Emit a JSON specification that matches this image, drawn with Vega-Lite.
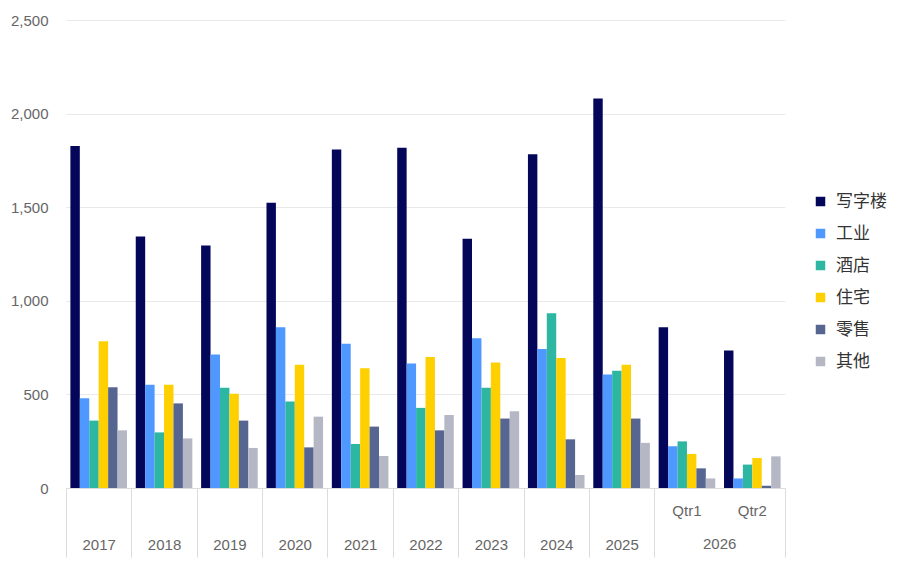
{
  "$schema": "https://vega.github.io/schema/vega-lite/v6.json",
  "width": 719,
  "height": 468,
  "autosize": {"type": "none"},
  "padding": {"left": 66, "top": 20, "right": 115, "bottom": 77},
  "background": "white",
  "config": {"view": {"stroke": null}, "font": "Liberation Sans"},
  "datasets": {
    "bars": [
      {"cat": "2017", "series": "写字楼", "value": 1827},
      {"cat": "2017", "series": "工业", "value": 479},
      {"cat": "2017", "series": "酒店", "value": 360},
      {"cat": "2017", "series": "住宅", "value": 784},
      {"cat": "2017", "series": "零售", "value": 538},
      {"cat": "2017", "series": "其他", "value": 308},
      {"cat": "2018", "series": "写字楼", "value": 1344},
      {"cat": "2018", "series": "工业", "value": 551},
      {"cat": "2018", "series": "酒店", "value": 297},
      {"cat": "2018", "series": "住宅", "value": 551},
      {"cat": "2018", "series": "零售", "value": 452},
      {"cat": "2018", "series": "其他", "value": 265},
      {"cat": "2019", "series": "写字楼", "value": 1296},
      {"cat": "2019", "series": "工业", "value": 713},
      {"cat": "2019", "series": "酒店", "value": 535},
      {"cat": "2019", "series": "住宅", "value": 503},
      {"cat": "2019", "series": "零售", "value": 360},
      {"cat": "2019", "series": "其他", "value": 214},
      {"cat": "2020", "series": "写字楼", "value": 1524},
      {"cat": "2020", "series": "工业", "value": 859},
      {"cat": "2020", "series": "酒店", "value": 462},
      {"cat": "2020", "series": "住宅", "value": 659},
      {"cat": "2020", "series": "零售", "value": 217},
      {"cat": "2020", "series": "其他", "value": 381},
      {"cat": "2021", "series": "写字楼", "value": 1808},
      {"cat": "2021", "series": "工业", "value": 770},
      {"cat": "2021", "series": "酒店", "value": 235},
      {"cat": "2021", "series": "住宅", "value": 640},
      {"cat": "2021", "series": "零售", "value": 328},
      {"cat": "2021", "series": "其他", "value": 171},
      {"cat": "2022", "series": "写字楼", "value": 1818},
      {"cat": "2022", "series": "工业", "value": 665},
      {"cat": "2022", "series": "酒店", "value": 428},
      {"cat": "2022", "series": "住宅", "value": 700},
      {"cat": "2022", "series": "零售", "value": 308},
      {"cat": "2022", "series": "其他", "value": 390},
      {"cat": "2023", "series": "写字楼", "value": 1332},
      {"cat": "2023", "series": "工业", "value": 800},
      {"cat": "2023", "series": "酒店", "value": 535},
      {"cat": "2023", "series": "住宅", "value": 670},
      {"cat": "2023", "series": "零售", "value": 371},
      {"cat": "2023", "series": "其他", "value": 410},
      {"cat": "2024", "series": "写字楼", "value": 1783},
      {"cat": "2024", "series": "工业", "value": 743},
      {"cat": "2024", "series": "酒店", "value": 934},
      {"cat": "2024", "series": "住宅", "value": 695},
      {"cat": "2024", "series": "零售", "value": 260},
      {"cat": "2024", "series": "其他", "value": 70},
      {"cat": "2025", "series": "写字楼", "value": 2080},
      {"cat": "2025", "series": "工业", "value": 606},
      {"cat": "2025", "series": "酒店", "value": 627},
      {"cat": "2025", "series": "住宅", "value": 659},
      {"cat": "2025", "series": "零售", "value": 371},
      {"cat": "2025", "series": "其他", "value": 241},
      {"cat": "Qtr1", "series": "写字楼", "value": 859},
      {"cat": "Qtr1", "series": "工业", "value": 223},
      {"cat": "Qtr1", "series": "酒店", "value": 249},
      {"cat": "Qtr1", "series": "住宅", "value": 182},
      {"cat": "Qtr1", "series": "零售", "value": 105},
      {"cat": "Qtr1", "series": "其他", "value": 51},
      {"cat": "Qtr2", "series": "写字楼", "value": 734},
      {"cat": "Qtr2", "series": "工业", "value": 51},
      {"cat": "Qtr2", "series": "酒店", "value": 125},
      {"cat": "Qtr2", "series": "住宅", "value": 160},
      {"cat": "Qtr2", "series": "零售", "value": 12},
      {"cat": "Qtr2", "series": "其他", "value": 169}
    ],
    "quarters": [
      {"cat": "Qtr1", "label": "Qtr1"},
      {"cat": "Qtr2", "label": "Qtr2"}
    ],
    "yearGroup": [
      {"cat": "Qtr2", "label": "2026"}
    ]
  },
  "layer": [
    {
      "data": {"name": "bars"},
      "mark": {"type": "bar"},
      "encoding": {
        "x": {
          "field": "cat",
          "type": "nominal",
          "sort": ["2017", "2018", "2019", "2020", "2021", "2022", "2023", "2024", "2025", "Qtr1", "Qtr2"],
          "scale": {"type": "band", "paddingInner": 0, "paddingOuter": 0},
          "axis": {
            "title": null,
            "orient": "bottom",
            "labelExpr": "indexof(['Qtr1','Qtr2'], datum.value) >= 0 ? '' : datum.value",
            "labelAngle": 0,
            "labelPadding": -20,
            "labelFontSize": 15,
            "labelColor": "#666666",
            "tickBand": "extent",
            "tickSize": 69,
            "tickColor": {"condition": {"test": "datum.value === 'Qtr1'", "value": "rgba(0,0,0,0)"}, "value": "#dcdcdc"},
            "domainColor": "#dcdcdc",
            "grid": false
          }
        },
        "xOffset": {
          "field": "series",
          "type": "nominal",
          "sort": ["写字楼", "工业", "酒店", "住宅", "零售", "其他"],
          "scale": {"paddingOuter": 0.465, "paddingInner": 0}
        },
        "y": {
          "field": "value",
          "type": "quantitative",
          "stack": null,
          "scale": {"domain": [0, 2500], "nice": false},
          "axis": {
            "title": null,
            "values": [0, 500, 1000, 1500, 2000, 2500],
            "format": ",.0f",
            "domain": false,
            "ticks": false,
            "labelPadding": 18,
            "labelFontSize": 15,
            "labelColor": "#666666",
            "gridColor": "#e9e9e9"
          }
        },
        "color": {
          "field": "series",
          "type": "nominal",
          "sort": ["写字楼", "工业", "酒店", "住宅", "零售", "其他"],
          "scale": {
            "domain": ["写字楼", "工业", "酒店", "住宅", "零售", "其他"],
            "range": ["#04065a", "#4f98ff", "#2db7a3", "#ffd000", "#576691", "#b5b7c4"]
          },
          "legend": {
            "title": null,
            "orient": "none",
            "legendX": 746,
            "legendY": 173,
            "symbolType": "square",
            "symbolSize": 90,
            "symbolStrokeWidth": 0,
            "labelFont": "Noto Sans CJK SC",
            "labelFontSize": 17,
            "labelColor": "#333333",
            "labelOffset": 7,
            "rowPadding": 14
          }
        }
      }
    },
    {
      "data": {"name": "quarters"},
      "mark": {"type": "text", "fontSize": 15, "color": "#666666", "baseline": "middle", "align": "center"},
      "encoding": {
        "x": {"field": "cat", "type": "nominal"},
        "y": {"datum": -123},
        "text": {"field": "label"}
      }
    },
    {
      "data": {"name": "yearGroup"},
      "mark": {"type": "text", "fontSize": 15, "color": "#666666", "baseline": "middle", "align": "center"},
      "encoding": {
        "x": {"field": "cat", "type": "nominal", "bandPosition": 0},
        "y": {"datum": -299},
        "text": {"field": "label"}
      }
    }
  ]
}
